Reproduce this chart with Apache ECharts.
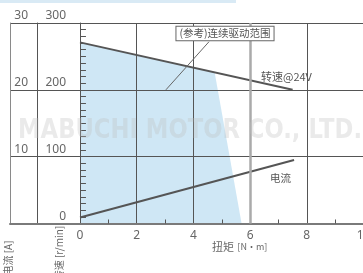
<!DOCTYPE html>
<html lang="zh">
<head>
    <meta charset="UTF-8">
    <title>特性曲线</title>
    <script src="https://cdn.jsdelivr.net/npm/echarts@6/dist/echarts.min.js"></script>
    <style>
        html, body { margin: 0; padding: 0; background: #fff; }
    </style>
</head>
<body>
    <div id="chart" style="width: 363px;height:273px;"></div>

<script>
    // 扭矩 [N·m]
    var torqueTicks = [0, 2, 4, 6, 8, 10];
    var torqueMinor = [1, 3, 5, 7, 9];
    // 转速 刻度 [r/min]
    var speedMinor = [10, 20, 30, 40, 50, 60, 70, 80, 90, 100, 110, 120, 130, 140, 150, 160, 170, 180, 190,
        200, 210, 220, 230, 240, 250, 260, 270, 280, 290];
    // 转速@24V [r/min]
    var speedLine = [[0, 271], [7.5, 200]];
    // 电流 [A]
    var currentLine = [[0, 0.9], [7.55, 9.5]];
    // (参考)连续驱动范围 的边界
    var driveArea = [[0, 271], [4.75, 226], [5.7, 0]];
    // 引线
    var leader = [[3.03, 200], [4.55, 272]];

    var myChart = echarts.init(document.getElementById('chart'));
    var dark = '#555';
    var txt = '#666';
    var font = '"Noto Sans", "Noto Sans CJK SC", sans-serif';

    // 刻度长度 (数据单位): 约 6px 横向, 4px 纵向
    var yTickLen = 0.21;
    var xTickLen = 6;
    var tickLines = [];
    speedMinor.forEach(function (v) {
        tickLines.push([{coord: [0, v]}, {coord: [yTickLen, v]}]);
    });
    torqueMinor.forEach(function (v) {
        tickLines.push([{coord: [v, 0]}, {coord: [v, xTickLen]}]);
    });

    // 水印宽度拉到 344px
    var wmFont = 'bold 26px "DejaVu Sans", sans-serif';
    var ctx = document.createElement('canvas').getContext('2d');
    ctx.font = wmFont;
    var wmScale = 344 / ctx.measureText('MABUCHI MOTOR CO., LTD.').width;

    var option = {
        animation: false,
        grid: [
            {left: 80, top: 23, width: 283.5, height: 200.5, outerBoundsMode: 'none', containLabel: false},
            {left: 10, top: 23, width: 70, height: 200.5, outerBoundsMode: 'none', containLabel: false}
        ],
        xAxis: [
            {
                type: 'value', gridIndex: 0, min: 0, max: 10, interval: 2,
                axisLine: {lineStyle: {color: '#7a7a7a', width: 2}},
                axisTick: {show: false},
                axisLabel: {color: txt, fontSize: 12, margin: 6, fontFamily: font},
                splitLine: {show: true, lineStyle: {color: [dark, dark, dark, 'rgba(0,0,0,0)', dark, dark], width: 1}}
            },
            {
                type: 'value', gridIndex: 1, min: 0, max: 1,
                axisLine: {onZero: false, lineStyle: {color: '#7a7a7a', width: 2}},
                axisTick: {show: false}, axisLabel: {show: false}, splitLine: {show: false}
            }
        ],
        yAxis: [
            {
                type: 'value', gridIndex: 0, min: 0, max: 300, interval: 100,
                axisLine: {show: true, onZero: false, lineStyle: {color: dark}},
                axisTick: {show: false},
                axisLabel: {color: txt, fontSize: 12, margin: 14, verticalAlign: 'bottom',
                    padding: [0, 0, 1, 0], fontFamily: font},
                splitLine: {show: true, lineStyle: {color: dark}}
            },
            {
                type: 'value', gridIndex: 0, min: 0, max: 30, interval: 10, position: 'left', offset: 43,
                axisLine: {show: true, onZero: false, lineStyle: {color: dark}},
                axisTick: {show: false},
                axisLabel: {color: txt, fontSize: 12, margin: 9, verticalAlign: 'bottom',
                    padding: [0, 0, 1, 0], fontFamily: font,
                    formatter: function (v) { return v === 0 ? '' : v; }},
                splitLine: {show: false}
            },
            {
                type: 'value', gridIndex: 1, min: 0, max: 300, interval: 100,
                axisLine: {show: true, onZero: false, lineStyle: {color: '#8a8a8a'}},
                axisTick: {show: false}, axisLabel: {show: false},
                splitLine: {show: true, lineStyle: {color: dark}}
            }
        ],
        series: [
            {
                type: 'line', xAxisIndex: 0, yAxisIndex: 0, data: driveArea, z: -1,
                symbol: 'none', lineStyle: {width: 0},
                areaStyle: {color: '#cfe7f5', opacity: 1}
            },
            {
                type: 'line', xAxisIndex: 0, yAxisIndex: 0, data: speedLine,
                symbol: 'none', lineStyle: {color: dark, width: 2},
                markLine: {
                    silent: true, symbol: 'none', label: {show: false},
                    lineStyle: {color: '#aaa', width: 2.5, type: 'solid'},
                    data: [{xAxis: torqueTicks[3]}]
                }
            },
            {
                type: 'line', xAxisIndex: 0, yAxisIndex: 1, data: currentLine,
                symbol: 'none', lineStyle: {color: dark, width: 2}
            },
            {
                type: 'line', xAxisIndex: 0, yAxisIndex: 0, data: leader,
                symbol: 'none', lineStyle: {color: '#666', width: 1},
                // 朝里的小刻度
                markLine: {
                    silent: true, symbol: 'none', label: {show: false},
                    lineStyle: {color: dark, width: 1, type: 'solid'},
                    emphasis: {disabled: true},
                    data: tickLines
                }
            }
        ],
        graphic: [
            {type: 'rect', shape: {x: 0, y: 0, width: 236, height: 3}, style: {fill: '#d9eaf5'}, z: -2},
            {
                type: 'text', x: 190, y: 131, z: 50, scaleX: wmScale,
                style: {text: 'MABUCHI MOTOR CO., LTD.', fill: 'rgba(190,190,190,0.32)',
                    font: wmFont, align: 'center', verticalAlign: 'middle'}
            },
            {
                type: 'text', x: 225, y: 33.5, z: 60,
                style: {text: '(参考)连续驱动范围', fill: '#555', font: '10.5px "Noto Sans CJK SC"',
                    align: 'center', verticalAlign: 'middle', backgroundColor: '#fff',
                    borderColor: '#666', borderWidth: 1, padding: [2, 3, 1, 3]}
            },
            {
                type: 'text', x: 261, y: 77, z: 60,
                style: {text: '转速@24V', fill: '#555', font: '11px "Noto Sans CJK SC"', verticalAlign: 'middle'}
            },
            {
                type: 'text', x: 270, y: 178, z: 60,
                style: {text: '电流', fill: '#555', font: '10.5px "Noto Sans CJK SC"', verticalAlign: 'middle'}
            },
            {
                type: 'text', x: 212, y: 247, z: 60,
                style: {
                    text: '{a|扭矩} {b|[N·m]}', verticalAlign: 'middle',
                    rich: {
                        a: {fill: '#666', font: '11px "Noto Sans CJK SC"'},
                        b: {fill: '#666', font: '9px "Noto Sans CJK SC"'}
                    }
                }
            },
            {
                type: 'text', x: 8, y: 258, rotation: Math.PI / 2, z: 60,
                style: {text: '电流 [A]', fill: '#666', font: '10px "Noto Sans CJK SC"',
                    align: 'center', verticalAlign: 'middle'}
            },
            {
                type: 'text', x: 59, y: 253, rotation: Math.PI / 2, z: 60,
                style: {text: '转速 [r/min]', fill: '#666', font: '10px "Noto Sans CJK SC"',
                    align: 'center', verticalAlign: 'middle'}
            }
        ]
    };

    myChart.setOption(option);
</script>
</body>
</html>
